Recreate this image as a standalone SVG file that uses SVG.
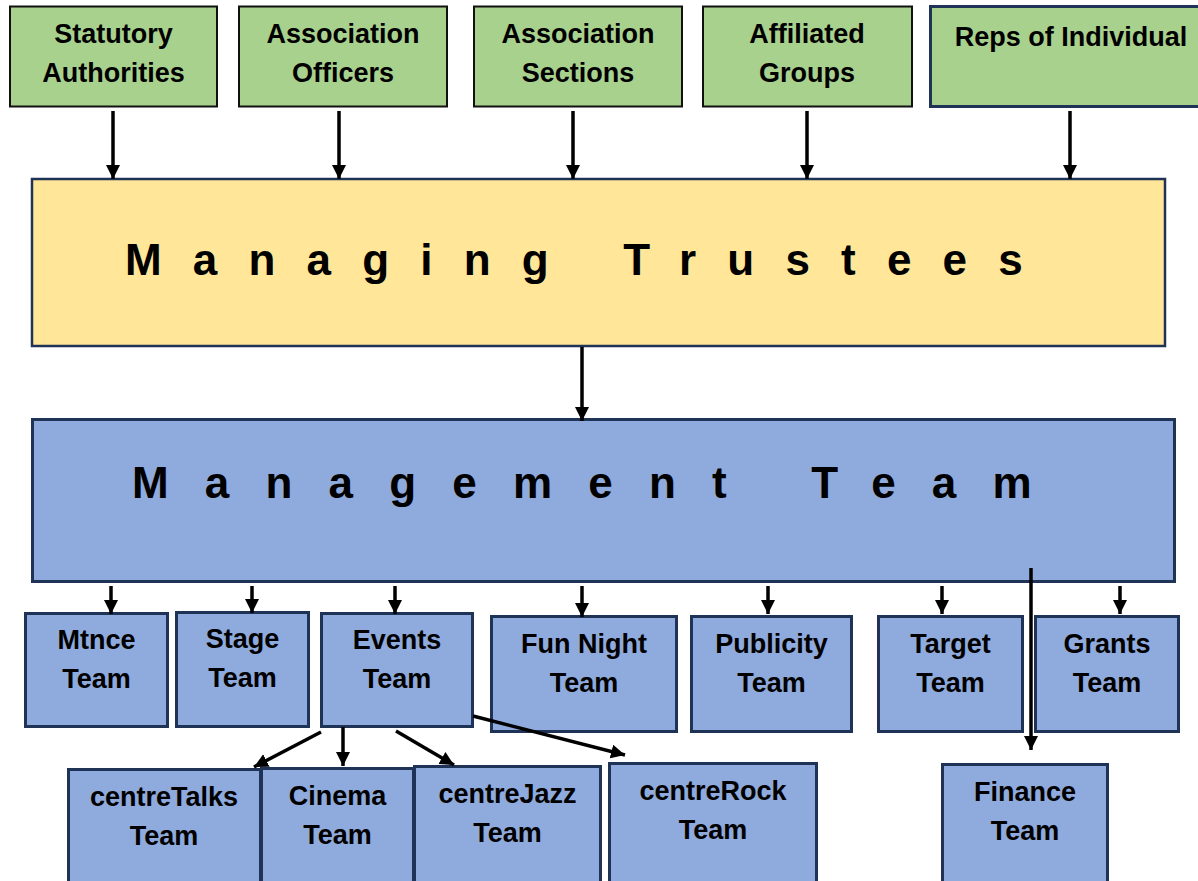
<svg xmlns="http://www.w3.org/2000/svg" width="1198" height="881" viewBox="0 0 1198 881">
<defs>
<marker id="ah" markerUnits="userSpaceOnUse" markerWidth="16" markerHeight="16" refX="14" refY="8" orient="auto">
<path d="M0,1 L14,8 L0,15 z" fill="#000"/>
</marker>
<style>
.t{font-family:"Liberation Sans",Arial,sans-serif;font-weight:bold;font-size:27px;fill:#000;text-anchor:middle}
.big{font-family:"Liberation Sans",Arial,sans-serif;font-weight:bold;font-size:44px;fill:#000}
.g{fill:#A9D18E;stroke:#111;stroke-width:2}
.gr{fill:#A9D18E;stroke:#1F3357;stroke-width:3}
.y{fill:#FFE699;stroke:#1F3357;stroke-width:2.5}
.b{fill:#8FAADC;stroke:#1F3357;stroke-width:3}
.c line{stroke:#000;stroke-width:3.5;marker-end:url(#ah)}
</style>
</defs>
<rect width="1198" height="881" fill="#fff"/>

<g id="statutory">
<rect class="g" x="10" y="6.5" width="207" height="100"/>
<text class="t" x="113.5" y="43">Statutory</text>
<text class="t" x="113.5" y="82">Authorities</text>
</g>
<g id="officers">
<rect class="g" x="239" y="6.5" width="208" height="100"/>
<text class="t" x="343" y="43">Association</text>
<text class="t" x="343" y="82">Officers</text>
</g>
<g id="sections">
<rect class="g" x="474" y="6.5" width="208" height="100"/>
<text class="t" x="578" y="43">Association</text>
<text class="t" x="578" y="82">Sections</text>
</g>
<g id="affiliated">
<rect class="g" x="703" y="6.5" width="209" height="100"/>
<text class="t" x="807" y="43">Affiliated</text>
<text class="t" x="807" y="82">Groups</text>
</g>
<g id="reps">
<rect class="gr" x="930.5" y="6.5" width="290" height="100"/>
<text class="t" x="1071" y="46">Reps of Individual</text>
</g>

<g id="trustees">
<rect class="y" x="32" y="179" width="1133" height="167"/>
<text class="big" x="125" y="275" letter-spacing="31.2">Managing Trustees</text>
</g>

<g id="management">
<rect class="b" x="32.5" y="419.5" width="1142" height="162"/>
<text class="big" x="132" y="498" letter-spacing="36.2">Management Team</text>
</g>

<g id="mtnce">
<rect class="b" x="25.5" y="613.5" width="142" height="113"/>
<text class="t" x="96.5" y="649">Mtnce</text>
<text class="t" x="96.5" y="688">Team</text>
</g>
<g id="stage">
<rect class="b" x="176.5" y="612.5" width="132" height="114"/>
<text class="t" x="242.5" y="648">Stage</text>
<text class="t" x="242.5" y="687">Team</text>
</g>
<g id="events">
<rect class="b" x="321.5" y="613.5" width="151" height="113"/>
<text class="t" x="397" y="649">Events</text>
<text class="t" x="397" y="688">Team</text>
</g>
<g id="funnight">
<rect class="b" x="491.5" y="616.5" width="185" height="115"/>
<text class="t" x="584" y="653">Fun Night</text>
<text class="t" x="584" y="692">Team</text>
</g>
<g id="publicity">
<rect class="b" x="691.5" y="616.5" width="160" height="115"/>
<text class="t" x="771.5" y="653">Publicity</text>
<text class="t" x="771.5" y="692">Team</text>
</g>
<g id="target">
<rect class="b" x="878.5" y="616.5" width="144" height="115"/>
<text class="t" x="950.5" y="653">Target</text>
<text class="t" x="950.5" y="692">Team</text>
</g>
<g id="grants">
<rect class="b" x="1035.5" y="616.5" width="143" height="115"/>
<text class="t" x="1107" y="653">Grants</text>
<text class="t" x="1107" y="692">Team</text>
</g>

<g id="centretalks">
<rect class="b" x="68.5" y="769.5" width="192" height="120"/>
<text class="t" x="164" y="806">centreTalks</text>
<text class="t" x="164" y="845">Team</text>
</g>
<g id="cinema">
<rect class="b" x="261.5" y="768.5" width="152" height="120"/>
<text class="t" x="337.5" y="805">Cinema</text>
<text class="t" x="337.5" y="844">Team</text>
</g>
<g id="centrejazz">
<rect class="b" x="414.5" y="766.5" width="186" height="120"/>
<text class="t" x="507.5" y="803">centreJazz</text>
<text class="t" x="507.5" y="842">Team</text>
</g>
<g id="centrerock">
<rect class="b" x="609.5" y="763.5" width="207" height="120"/>
<text class="t" x="713" y="800">centreRock</text>
<text class="t" x="713" y="839">Team</text>
</g>
<g id="finance">
<rect class="b" x="942.5" y="764.5" width="165" height="120"/>
<text class="t" x="1025" y="801">Finance</text>
<text class="t" x="1025" y="840">Team</text>
</g>

<g id="connectors" class="c">
<line x1="113" y1="111" x2="113" y2="179"/>
<line x1="339" y1="111" x2="339" y2="179"/>
<line x1="573" y1="111" x2="573" y2="179"/>
<line x1="807" y1="111" x2="807" y2="179"/>
<line x1="1070" y1="111" x2="1070" y2="179"/>
<line x1="582" y1="347" x2="582" y2="421"/>
<line x1="111" y1="586" x2="111" y2="614"/>
<line x1="252" y1="586" x2="252" y2="613"/>
<line x1="395" y1="586" x2="395" y2="614"/>
<line x1="582" y1="586" x2="582" y2="617"/>
<line x1="768" y1="586" x2="768" y2="614"/>
<line x1="942" y1="586" x2="942" y2="614"/>
<line x1="1120" y1="586" x2="1120" y2="614"/>
<line x1="1031" y1="568" x2="1031" y2="750"/>
<line x1="321" y1="732" x2="254" y2="767"/>
<line x1="343" y1="727" x2="343" y2="766"/>
<line x1="396" y1="731" x2="454" y2="765"/>
<line x1="473" y1="716" x2="625" y2="755"/>
</g>
</svg>
